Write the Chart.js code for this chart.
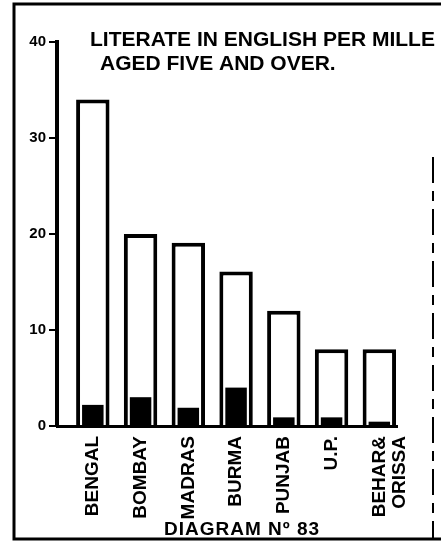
<!DOCTYPE html>
<html>
<head>
<meta charset="utf-8">
<title>Literate in English per mille</title>
<script src="https://cdn.jsdelivr.net/npm/chart.js@4"></script>
<style>
  html, body { margin: 0; padding: 0; background: #fff; }
  #quadro { width: 441px; height: 545px; }
</style>
</head>
<body>
<div id="quadro"><canvas id="grafico"></canvas></div>
<script>
// Provinces, in the order they are drawn
const provincias = ['BENGAL', 'BOMBAY', 'MADRAS', 'BURMA', 'PUNJAB', 'U.P.', ['BEHAR&', 'ORISSA']];
// Literate in English per mille, aged five and over (outer bars)
const porMille = [34, 20, 19.1, 16.1, 12, 8, 8];
// Solid black part at the foot of each bar
const parteEscura = [2.2, 3.0, 1.9, 4.0, 0.9, 0.9, 0.45];
// Vertical axis ticks
const marcasY = [0, 10, 20, 30, 40];

const titulo = ['LITERATE IN ENGLISH PER MILLE', 'AGED FIVE AND OVER.'];
const rodape = 'DIAGRAM Nº 83';

const fonte = '"Liberation Sans", Arial, sans-serif';

// Frame around the sheet, heading and footer
const molduraETextos = {
    id: 'molduraETextos',
    beforeDraw(chart) {
        const ctx = chart.ctx;
        const w = chart.width, h = chart.height;
        ctx.save();
        ctx.fillStyle = '#fff';
        ctx.fillRect(0, 0, w, h);
        ctx.strokeStyle = '#000';
        ctx.lineWidth = 3;
        ctx.beginPath();
        ctx.moveTo(w, 4);
        ctx.lineTo(14, 4);
        ctx.lineTo(14, h - 6);
        ctx.lineTo(w, h - 6);
        ctx.stroke();
        // right edge is broken
        ctx.lineWidth = 2;
        ctx.setLineDash([26, 8, 10, 8]);
        ctx.beginPath();
        ctx.moveTo(w - 8, 157);
        ctx.lineTo(w - 8, h - 6);
        ctx.stroke();
        ctx.restore();
    },
    afterDraw(chart) {
        const { ctx, chartArea } = chart;
        ctx.save();
        ctx.fillStyle = '#000';
        ctx.textBaseline = 'alphabetic';
        ctx.font = 'bold 21px ' + fonte;
        ctx.fillText(titulo[0], chartArea.left + 33, chartArea.top + 4);
        ctx.fillText(titulo[1], chartArea.left + 43, chartArea.top + 28);
        ctx.font = 'bold 19px ' + fonte;
        ctx.letterSpacing = '1px';
        ctx.textAlign = 'center';
        ctx.fillText(rodape, (chartArea.left + chartArea.right) / 2 + 15, chart.height - 10);
        ctx.restore();
    }
};

new Chart(document.getElementById('grafico'), {
    type: 'bar',
    data: {
        datasets: [
            {
                label: 'parte escura',
                data: parteEscura.map((v, i) => ({ x: i, y: v })),
                backgroundColor: '#000',
                borderWidth: 0,
                grouped: false,
                categoryPercentage: 1,
                barPercentage: 0.45,
                order: 0
            },
            {
                label: 'por mille',
                data: porMille.map((v, i) => ({ x: i, y: v })),
                backgroundColor: '#fff',
                borderColor: '#000',
                borderWidth: 4,
                grouped: false,
                categoryPercentage: 1,
                barPercentage: 0.7,
                order: 1
            }
        ]
    },
    options: {
        responsive: true,
        maintainAspectRatio: false,
        animation: false,
        layout: { padding: { top: 42, right: 44, bottom: 0, left: 0 } },
        plugins: {
            legend: { display: false },
            tooltip: { enabled: false }
        },
        scales: {
            x: {
                type: 'linear',
                offset: false,
                min: -0.75,
                max: 6.37,
                afterBuildTicks: s => { s.ticks = provincias.map((_, i) => ({ value: i })); },
                afterFit: s => { s.height = 119; },
                grid: { display: false, offset: false },
                border: { color: '#000', width: 3 },
                ticks: {
                    autoSkip: false,
                    minRotation: 90,
                    maxRotation: 90,
                    padding: 2,
                    color: '#000',
                    font: { family: fonte, size: 19, weight: 'bold', lineHeight: 1.1 },
                    callback: v => provincias[v]
                }
            },
            y: {
                min: 0,
                max: 40,
                afterBuildTicks: s => { s.ticks = marcasY.map(v => ({ value: v })); },
                afterFit: s => { s.width = 57; },
                grid: { drawOnChartArea: false, color: '#000', tickLength: 8, lineWidth: 2 },
                border: { color: '#000', width: 4 },
                ticks: {
                    padding: 3,
                    color: '#000',
                    font: { family: fonte, size: 15, weight: 'bold' }
                }
            }
        }
    },
    plugins: [molduraETextos]
});
</script>
</body>
</html>
